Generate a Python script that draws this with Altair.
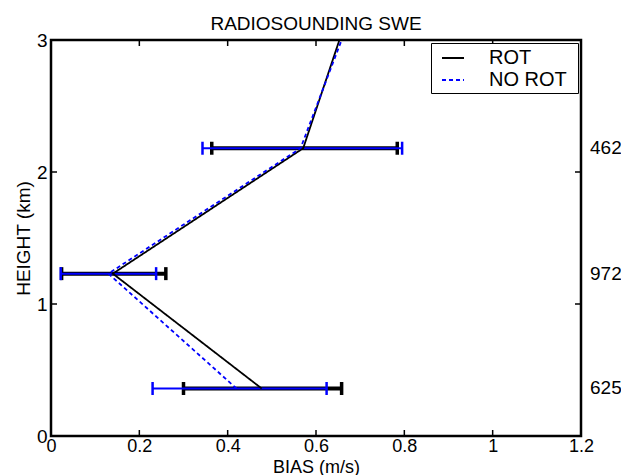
import altair as alt
import pandas as pd

# ---- data ----
series = ["ROT", "NO ROT"]
line_heights = [0.36, 1.23, 2.18, 3.0]
rot_bias = [0.477, 0.14, 0.571, 0.653]
norot_bias = [0.42, 0.13, 0.565, 0.658]

levels = [0.36, 1.23, 2.18]
rot_lo = [0.30, 0.024, 0.364]
rot_hi = [0.658, 0.26, 0.784]
norot_lo = [0.23, 0.022, 0.343]
norot_hi = [0.624, 0.238, 0.795]
counts = ["625", "972", "462"]

x_ticks = [0, 0.2, 0.4, 0.6, 0.8, 1.0, 1.2]
y_ticks = [0, 1, 2, 3]

# ---- layout / style ----
W, H = 530, 396
FONT = "Liberation Sans"
FS = 19
BLUE = "#0000ff"

lines = pd.DataFrame({
    "series": [series[0]] * 4 + [series[1]] * 4,
    "h": line_heights * 2,
    "bias": rot_bias + norot_bias,
    "order": list(range(4)) * 2,
})
bars_rot = pd.DataFrame({"h": levels, "lo": rot_lo, "hi": rot_hi})
bars_norot = pd.DataFrame({"h": levels, "lo": norot_lo, "hi": norot_hi})
caps_rot = pd.DataFrame({"h": levels * 2, "x": rot_lo + rot_hi})
caps_norot = pd.DataFrame({"h": levels * 2, "x": norot_lo + norot_hi})
count_df = pd.DataFrame({"h": levels, "c": counts})
xt_df = pd.DataFrame({"x": x_ticks})
yt_df = pd.DataFrame({"y": y_ticks})

xs = alt.Scale(domain=[0, 1.2], nice=False, zero=False)
ys = alt.Scale(domain=[0, 3], nice=False, zero=False)

xaxis = alt.Axis(values=x_ticks, format="~g", title="BIAS (m/s)", grid=False,
                 domain=False, ticks=False, labelPadding=1, titlePadding=3,
                 labelFontSize=18, titleFontSize=18, titleFontWeight="normal",
                 labelColor="black", titleColor="black", labelFlush=False)
yaxis = alt.Axis(values=y_ticks, format="d", title="HEIGHT (km)", grid=False,
                 domain=False, ticks=False, labelPadding=4, titlePadding=3,
                 labelFontSize=FS, titleFontSize=FS, titleFontWeight="normal",
                 labelColor="black", titleColor="black", labelFlush=False)


def X(f):
    return alt.X(f, type="quantitative", scale=xs, axis=xaxis)


def Y(f):
    return alt.Y(f, type="quantitative", scale=ys, axis=yaxis)


legend = alt.Legend(title="\u00a0", titleOrient="right", titlePadding=8,
                    titleFontSize=FS, titleFont=FONT,
                    orient="top-right", offset=3, fillColor="white",
                    strokeColor="black", padding=3, labelFontSize=20, labelFont=FONT,
                    labelColor="black", symbolType="stroke", symbolSize=484,
                    symbolStrokeWidth=2, symbolOffset=7, labelOffset=24, rowPadding=0)

bar_black = alt.Chart(bars_rot).mark_rule(color="black", strokeWidth=4).encode(
    x=X("lo"), x2="hi", y=Y("h"))
cap_black = alt.Chart(caps_rot).mark_tick(orient="vertical", color="black",
                                          thickness=3.5, size=13, opacity=1).encode(
    x=X("x"), y=Y("h"))
bar_blue = alt.Chart(bars_norot).mark_rule(color=BLUE, strokeWidth=2).encode(
    x=X("lo"), x2="hi", y=Y("h"))
cap_blue = alt.Chart(caps_norot).mark_tick(orient="vertical", color=BLUE,
                                           thickness=2.5, size=13, opacity=1).encode(
    x=X("x"), y=Y("h"))

line = alt.Chart(lines).mark_line(strokeWidth=1.8).encode(
    x=X("bias"), y=Y("h"),
    color=alt.Color("series:N", scale=alt.Scale(domain=series, range=["black", BLUE]),
                    legend=legend),
    strokeDash=alt.StrokeDash("series:N",
                              scale=alt.Scale(domain=series, range=[[1, 0], [4, 3]]),
                              legend=legend),
    order="order:Q",
)

tick_style = dict(color="black", strokeWidth=1.5)
t_bottom = alt.Chart(xt_df).mark_rule(**tick_style).encode(
    x=X("x"), y=alt.value(H), y2=alt.value(H - 6))
t_top = alt.Chart(xt_df).mark_rule(**tick_style).encode(
    x=X("x"), y=alt.value(0), y2=alt.value(6))
t_left = alt.Chart(yt_df).mark_rule(**tick_style).encode(
    y=Y("y"), x=alt.value(0), x2=alt.value(6))
t_right = alt.Chart(yt_df).mark_rule(**tick_style).encode(
    y=Y("y"), x=alt.value(W), x2=alt.value(W - 6))

count_text = alt.Chart(count_df).mark_text(align="left", baseline="middle",
                                           fontSize=FS, font=FONT, color="black").encode(
    x=alt.value(W + 9), y=Y("h"), text="c:N")

chart = alt.layer(
    bar_black, cap_black, bar_blue, cap_blue, line,
    t_bottom, t_top, t_left, t_right, count_text,
).properties(
    width=W, height=H,
    title=alt.Title("RADIOSOUNDING SWE", fontSize=FS, font=FONT, frame="group",
                    fontWeight="normal", anchor="middle", offset=10, dy=13,
                    color="black"),
    autosize=alt.AutoSizeParams(type="none"),
    padding={"left": 43, "top": 32, "right": 40, "bottom": 39},
).configure(font=FONT).configure_view(stroke="black", strokeWidth=2.5)

chart.save("out.html", embed_options={"renderer": "svg", "actions": False})
